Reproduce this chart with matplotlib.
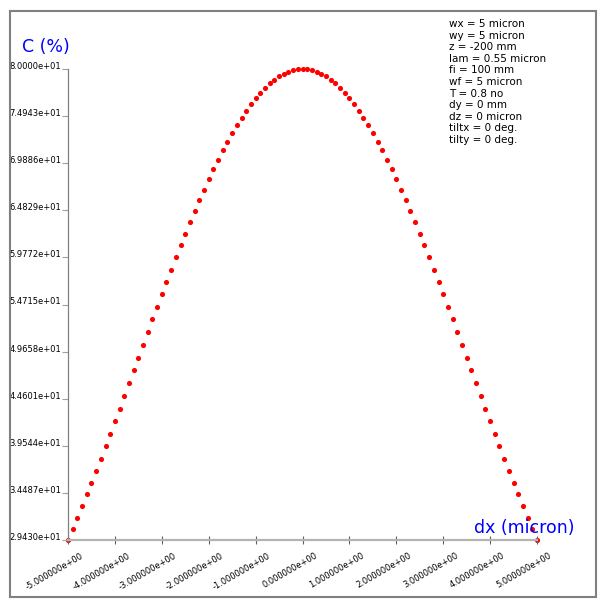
import numpy as np
import matplotlib
matplotlib.use('Agg')
import matplotlib.pyplot as plt
from matplotlib.patches import Rectangle
import matplotlib.transforms as mtransforms

# lateral offset dx (micron), 101 samples from -5 to 5
dx = np.linspace(-5.0, 5.0, 101)

# coupling C (%)
C = [29.43, 30.62, 31.83, 33.06, 34.32, 35.59, 36.88, 38.18, 39.50, 40.84,
     42.18, 43.54, 44.90, 46.27, 47.64, 49.01, 50.38, 51.75, 53.11, 54.47,
     55.81, 57.15, 58.46, 59.77, 61.05, 62.30, 63.54, 64.74, 65.92, 67.06,
     68.17, 69.24, 70.28, 71.27, 72.21, 73.11, 73.97, 74.77, 75.52, 76.22,
     76.86, 77.45, 77.98, 78.45, 78.86, 79.20, 79.49, 79.71, 79.87, 79.97,
     80.00,
     79.97, 79.87, 79.71, 79.49, 79.20, 78.86, 78.45, 77.98, 77.45, 76.86,
     76.22, 75.52, 74.77, 73.97, 73.11, 72.21, 71.27, 70.28, 69.24, 68.17,
     67.06, 65.92, 64.74, 63.54, 62.30, 61.05, 59.77, 58.46, 57.15, 55.81,
     54.47, 53.11, 51.75, 50.38, 49.01, 47.64, 46.27, 44.90, 43.54, 42.18,
     40.84, 39.50, 38.18, 36.88, 35.59, 34.32, 33.06, 31.83, 30.62, 29.43]

x_ticks = [-5, -4, -3, -2, -1, 0, 1, 2, 3, 4, 5]
x_labels = ['-5.000000e+00', '-4.000000e+00', '-3.000000e+00', '-2.000000e+00',
            '-1.000000e+00', '0.000000e+00', '1.000000e+00', '2.000000e+00',
            '3.000000e+00', '4.000000e+00', '5.000000e+00']
y_ticks = [29.430, 34.487, 39.544, 44.601, 49.658, 54.715, 59.772, 64.829,
           69.886, 74.943, 80.000]
y_labels = ['2.9430e+01', '3.4487e+01', '3.9544e+01', '4.4601e+01', '4.9658e+01',
            '5.4715e+01', '5.9772e+01', '6.4829e+01', '6.9886e+01', '7.4943e+01',
            '8.0000e+01']

params = ['wx = 5 micron', 'wy = 5 micron', 'z = -200 mm', 'lam = 0.55 micron',
          'fi = 100 mm', 'wf = 5 micron', 'T = 0.8 no', 'dy = 0 mm',
          'dz = 0 micron', 'tiltx = 0 deg.', 'tilty = 0 deg.']

W, H = 611, 609
fig = plt.figure(figsize=(W / 100, H / 100), dpi=100)
fig.patch.set_facecolor('white')

# outer gray frame
fig.patches.append(Rectangle((10 / W, 1 - 597 / H), 586 / W, 586 / H,
                             transform=fig.transFigure, fill=False,
                             edgecolor='#808080', linewidth=1.5))

ax = fig.add_axes([68 / W, 1 - 540 / H, (537 - 68) / W, (540 - 69) / H])
ax.plot(dx, C, 'o', color='red', markersize=3.7, markeredgewidth=0,
        clip_on=False, zorder=1)
ax.set_xlim(-5, 5)
ax.set_ylim(29.43, 80.0)

for s in ['top', 'right']:
    ax.spines[s].set_visible(False)
ax.spines['left'].set_color('#808080')
ax.spines['left'].set_linewidth(0.9)
ax.spines['bottom'].set_color('#b4b4b4')
ax.spines['bottom'].set_linewidth(1.6)
ax.set_axisbelow(False)
for s in ax.spines.values():
    s.set_zorder(3)

ax.set_yticks(y_ticks)
ax.set_yticklabels(y_labels, fontsize=6)
for lab in ax.get_yticklabels():
    lab.set_verticalalignment('baseline')
ax.tick_params(axis='y', length=4.5, width=0.8, color='#a0a0a0', pad=0.5)

ax.set_xticks(x_ticks)
ax.set_xticklabels([])
ax.tick_params(axis='x', direction='inout', length=6, width=0.8, color='#606060')

off = mtransforms.ScaledTranslation(12 / 100, -11 / 100, fig.dpi_scale_trans)
trans = mtransforms.blended_transform_factory(ax.transData, ax.transAxes) + off
for xv, lab in zip(x_ticks, x_labels):
    ax.text(xv, 0, lab, transform=trans, fontsize=6, rotation=30,
            rotation_mode='anchor', ha='right', va='top')

fig.text(22 / W, 1 - 47 / H, 'C (%)', color='blue', fontsize=12.5,
         ha='left', va='center')
fig.text(575 / W, 1 - 528 / H, 'dx (micron)', color='blue', fontsize=12.5,
         ha='right', va='center')

fig.text(449 / W, 1 - 19 / H, '\n'.join(params), fontsize=7.5,
         ha='left', va='top', linespacing=1.2)

fig.savefig('out.png', dpi=100, facecolor='white')
